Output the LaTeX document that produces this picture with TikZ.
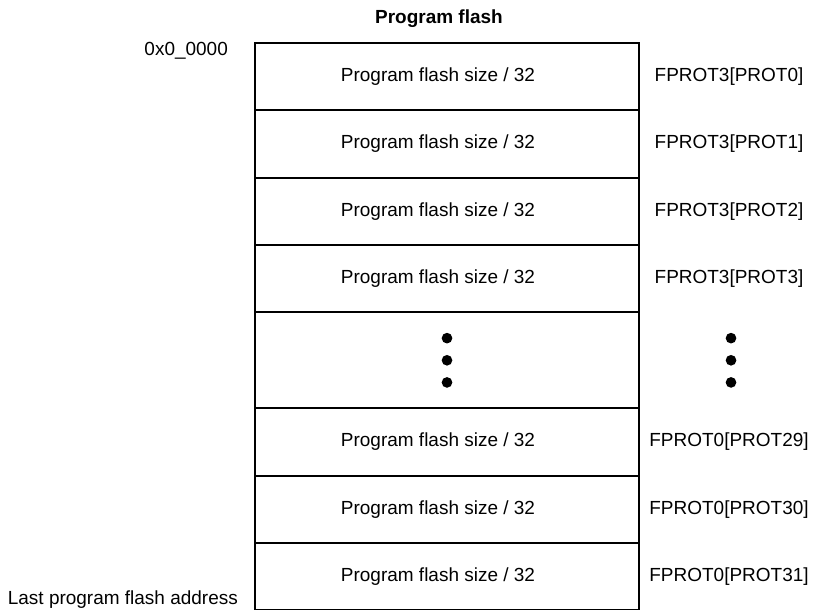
\documentclass[tikz,border=0pt]{standalone}
\usepackage{fontspec}
\setmainfont{Liberation Sans}
\usetikzlibrary{positioning}

\tikzset{
  cell/.style={draw, line width=1.6pt, outer sep=0pt, inner sep=0pt, minimum width=11.52cm, minimum height=2.02cm,
    label={[xshift=-0.27cm]center:Program flash size / 32}},
  gapcell/.style={draw, line width=1.6pt, outer sep=0pt, inner sep=0pt, minimum width=11.52cm, minimum height=2.88cm},
  dot/.style={circle, fill=black, inner sep=0pt, minimum size=0.32cm},
  prot/.style={anchor=center}
}

\begin{document}
\begin{tikzpicture}[x=0.03cm, y=-0.03cm, font=\fontsize{16.2}{19}\selectfont]
\useasboundingbox (0,0) rectangle (817,609);
\node[anchor=base, font=\fontsize{16.2}{19}\selectfont\bfseries] (title) at (439,23) {Program flash};
% memory blocks
\node[cell] (r0) at (447,76.6) {};
\node[cell, below=0pt of r0] (r1) {};
\node[cell, below=0pt of r1] (r2) {};
\node[cell, below=0pt of r2] (r3) {};
\node[gapcell, below=0pt of r3] (gap) {};
\node[cell, below=0pt of gap] (r29) {};
\node[cell, below=0pt of r29] (r30) {};
\node[cell, below=0pt of r30] (r31) {};
% vertical dots
\node[dot] (d1) at (gap.center) {};
\node[dot, above=0.33cm of d1] (d0) {};
\node[dot, below=0.33cm of d1] (d2) {};
\node[dot] (e1) at ([xshift=2.76cm]gap.east) {};
\node[dot, above=0.33cm of e1] (e0) {};
\node[dot, below=0.33cm of e1] (e2) {};
% protection bits
\node[prot] (p0) at ([xshift=2.7cm]r0.east) {FPROT3[PROT0]};
\node[prot] (p1) at ([xshift=2.7cm]r1.east) {FPROT3[PROT1]};
\node[prot] (p2) at ([xshift=2.7cm]r2.east) {FPROT3[PROT2]};
\node[prot] (p3) at ([xshift=2.7cm]r3.east) {FPROT3[PROT3]};
\node[prot] (p29) at ([xshift=2.7cm]r29.east) {FPROT0[PROT29]};
\node[prot] (p30) at ([xshift=2.7cm]r30.east) {FPROT0[PROT30]};
\node[prot] (p31) at ([xshift=2.7cm]r31.east) {FPROT0[PROT31]};
% addresses
\node[anchor=base east] (first) at (232,55) {0x0\_0000};
\node[anchor=base east] (last) at (242,604) {Last program flash address};
\end{tikzpicture}
\end{document}
